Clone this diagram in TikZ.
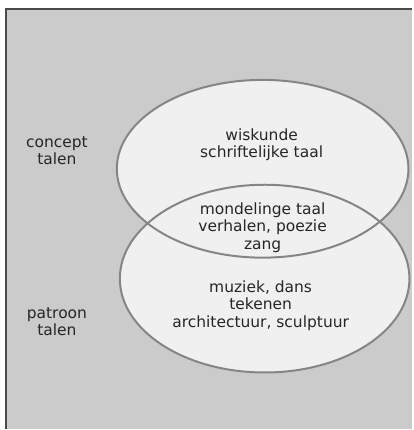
\documentclass[tikz,border=0pt]{standalone}
\usepackage{fontspec}
\setmainfont{DejaVu Sans}
\definecolor{bggray}{HTML}{CBCBCB}
\definecolor{blobfill}{HTML}{F0F0F0}
\definecolor{blobline}{HTML}{858585}
\definecolor{frameline}{HTML}{4A4A4A}
\newcommand{\fs}{\fontsize{15.5}{17.5}\selectfont}

\begin{document}
\begin{tikzpicture}[x=1pt, y=-1pt,
    lbl/.style={align=center, font=\fs, inner sep=0pt, text=black!85},
    blob/.style={fill=blobfill},
    rim/.style={draw=blobline, line width=2pt}]
    % Background and frame
    \fill[white] (0,0) rectangle (413,430);
    \fill[bggray] (6,9) rectangle (413,430);
    \draw[frameline, line width=1.2pt] (6,430) -- (6,9) -- (413,9);

    % Ellipses
    \fill[blob] (263,169) ellipse [x radius=146, y radius=89];
    \fill[blob] (265,279) ellipse [x radius=145, y radius=94];
    \draw[rim] (263,169) ellipse [x radius=146, y radius=89];
    \draw[rim] (265,279) ellipse [x radius=145, y radius=94];

    % Labels
    \node[lbl] (concept) at (57,151) {concept\\talen};
    \node[lbl] (patroon) at (57,322) {patroon\\talen};
    \node[lbl] (schrift) at (262,145) {wiskunde\\schriftelijke taal};
    \node[lbl] (mondeling) at (263,228) {mondelinge taal\\verhalen, poezie\\zang};
    \node[lbl] (beeld) at (261,306) {muziek, dans\\tekenen\\architectuur, sculptuur};
\end{tikzpicture}
\end{document}
